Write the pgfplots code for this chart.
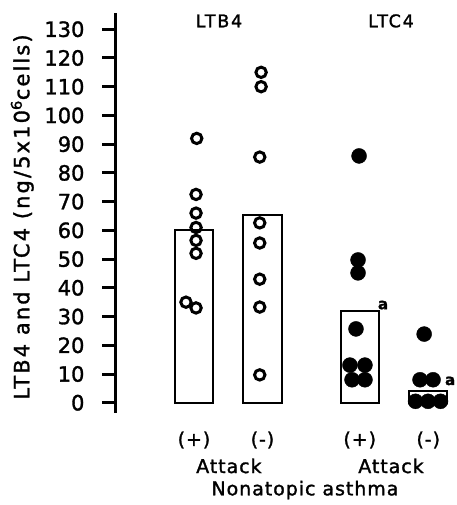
\documentclass[border=0pt]{standalone}
\usepackage{pgfplots}
\pgfplotsset{compat=1.18}
\usepackage{fontspec}
\setmainfont{DejaVu Sans}[FakeBold=1.5]
\newfontfamily\spaced{DejaVu Sans}[LetterSpace=10, FakeBold=1.5]
\newfontfamily\spacedb{DejaVu Sans}[LetterSpace=5, FakeBold=1.5]
\begin{document}
\begin{tikzpicture}
\useasboundingbox (0,0) rectangle (456pt,505pt);
\begin{axis}[
  at={(115pt,92pt)}, anchor=south west,
  scale only axis, width=341pt, height=400pt,
  xmin=-0.153, xmax=4.825, ymin=-3.57, ymax=135.65,
  axis lines*=left,
  x axis line style={draw=none},
  y axis line style={line width=3pt},
  ytick={0,10,...,130},
  xtick={1,2,3.42,4.42},
  xticklabels={(+),(-),(+),(-)},
  tick align=outside,
  major tick length=13pt,
  y tick style={line width=3pt, black},
  x tick style={draw=none},
  /pgf/number format/assume math mode=true,
  yticklabel style={font=\fontsize{21}{23}\selectfont, anchor=east, xshift=-14pt},
  xticklabel style={font=\fontsize{19}{21}\selectfont\spacedb, anchor=center, yshift=-14pt},
  ylabel={\spaced LTB4 and LTC4 (ng/5x10\textsuperscript{6}cells)},
  ylabel style={font=\fontsize{21}{23}\selectfont, at={(axis description cs:-0.272,0.49)}, anchor=center},
  clip=false,
]
\addplot[ybar, bar width=0.56, bar shift=0pt, draw=black, fill=white, line width=2pt]
  coordinates {(1,60) (2,65.3) (3.42,32) (4.42,4)};
% LTB4, attack (+)
\addplot[only marks, mark=o, mark size=5.2pt, mark options={line width=3pt}]
  coordinates {(1.04,92) (1.03,72.5) (1.03,66) (1.03,61) (1.03,56.5) (1.03,52) (0.883,35) (1.03,33)};
% LTB4, attack (-)
\addplot[only marks, mark=o, mark size=5.2pt, mark options={line width=3pt}]
  coordinates {(1.98,115) (1.98,110) (1.96,85.5) (1.96,62.6) (1.96,55.6) (1.96,43) (1.96,33.3) (1.96,9.7)};
% LTC4, attack (+)
\addplot[only marks, mark=*, mark size=7.5pt, fill=black]
  coordinates {(3.41,85.9) (3.395,49.7) (3.395,45.2) (3.365,25.7) (3.277,13.1) (3.496,13.1) (3.307,8) (3.496,8)};
% LTC4, attack (-)
\addplot[only marks, mark=*, mark size=7.5pt, fill=black]
  coordinates {(4.36,23.9) (4.30,8) (4.49,8) (4.234,0.5) (4.416,0.5) (4.599,0.5)};
\node[font=\fontsize{17.5}{19}\selectfont\spaced] at (axis cs:1.365,132.9) {LTB4};
\node[font=\fontsize{17.5}{19}\selectfont\spaced] at (axis cs:3.876,132.9) {LTC4};
\node[font=\fontsize{19}{21}\selectfont\spacedb] at (axis cs:1.51,-22) {Attack};
\node[font=\fontsize{19}{21}\selectfont\spacedb] at (axis cs:3.876,-22) {Attack};
\node[font=\fontsize{19}{21}\selectfont\spacedb] at (axis cs:2.62,-30.4) {Nonatopic asthma};
\node[font=\fontsize{15}{17}\selectfont\bfseries] at (axis cs:3.76,34) {a};
\node[font=\fontsize{15}{17}\selectfont\bfseries] at (axis cs:4.74,7.6) {a};
\end{axis}
\end{tikzpicture}
\end{document}
